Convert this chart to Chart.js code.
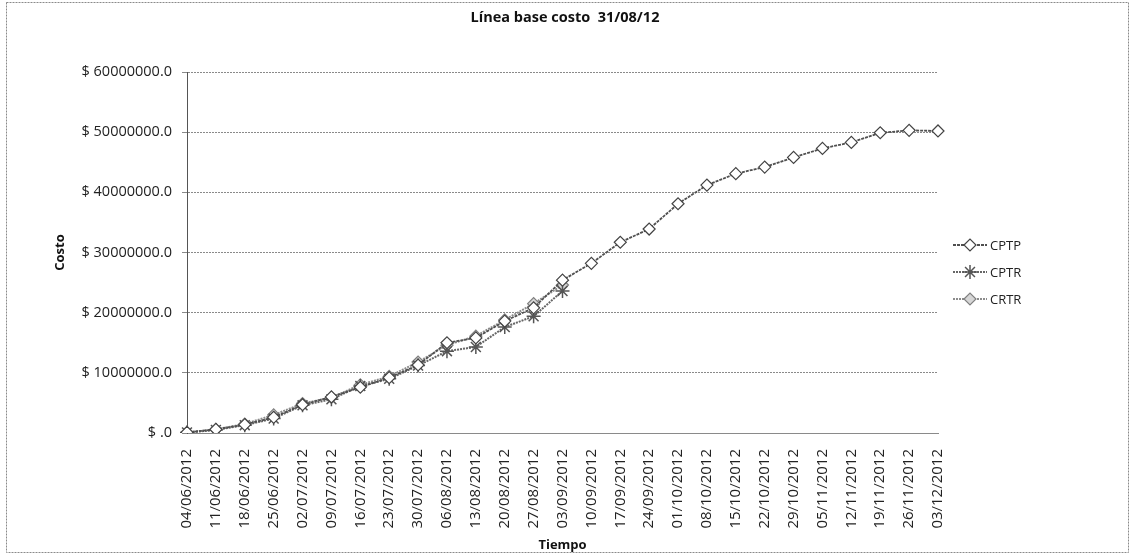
<!DOCTYPE html>
<html>
<head>
<meta charset="utf-8">
<script src="https://cdn.jsdelivr.net/npm/chart.js@4.4.1/dist/chart.umd.min.js"></script>
<style>
  html, body { margin: 0; padding: 0; background: #fff; }
  #wrap { width: 1134px; height: 557px; position: relative; }
</style>
</head>
<body>
<div id="wrap"><canvas id="chart"></canvas></div>
<script>
// Línea base costo - weekly cumulative values (millions)
const FECHAS = ['04/06/2012', '11/06/2012', '18/06/2012', '25/06/2012', '02/07/2012', '09/07/2012',
    '16/07/2012', '23/07/2012', '30/07/2012', '06/08/2012', '13/08/2012', '20/08/2012', '27/08/2012',
    '03/09/2012', '10/09/2012', '17/09/2012', '24/09/2012', '01/10/2012', '08/10/2012', '15/10/2012',
    '22/10/2012', '29/10/2012', '05/11/2012', '12/11/2012', '19/11/2012', '26/11/2012', '03/12/2012'];

const CPTP = [0.1, 0.6, 1.4, 2.6, 4.7, 6.0, 7.6, 9.2, 11.3, 15.0, 15.8, 18.6, 20.8, 25.4,
    28.2, 31.7, 33.9, 38.1, 41.2, 43.1, 44.2, 45.8, 47.3, 48.3, 49.9, 50.3, 50.2];
const CPTR = [0.1, 0.5, 1.3, 2.4, 4.6, 5.6, 7.8, 9.0, 11.2, 13.6, 14.3, 17.6, 19.4, 23.6];
const CRTR = [0.1, 0.6, 1.5, 3.0, 4.9, 5.9, 8.0, 9.4, 11.8, 14.6, 16.1, 18.8, 21.5, 24.6];

const TITULO = 'Línea base costo  31/08/12';
const Y_MAX = 60000000;
const Y_STEP = 10000000;

const toPesos = arr => arr.map(v => v * 1000000);
const FONT = 'Open Sans';

// frame around the whole chart + the title, centred like in the Excel sheet
const framePlugin = {
    id: 'frame',
    beforeDraw(chart) {
        const ctx = chart.ctx;
        ctx.save();
        ctx.strokeStyle = '#8a8a8a';
        ctx.lineWidth = 1;
        ctx.setLineDash([2, 1]);
        ctx.strokeRect(6.5, 2.5, 1122, 550);
        ctx.setLineDash([]);
        ctx.fillStyle = '#111';
        ctx.font = `bold 14.5px "${FONT}"`;
        ctx.textAlign = 'center';
        ctx.textBaseline = 'middle';
        ctx.fillText(TITULO, 565, 18);
        ctx.restore();
    }
};

// Excel-style legend: short line + marker + label
const legendPlugin = {
    id: 'excelLegend',
    afterDraw(chart) {
        const ctx = chart.ctx;
        ctx.save();
        chart.data.datasets.forEach((ds, i) => {
            const y = 245 + i * 27;
            ctx.strokeStyle = ds.borderColor;
            ctx.lineWidth = ds.borderWidth;
            ctx.setLineDash(ds.borderDash || []);
            ctx.beginPath();
            ctx.moveTo(953, y);
            ctx.lineTo(987, y);
            ctx.stroke();
            ctx.setLineDash([]);
            ctx.fillStyle = ds.pointBackgroundColor;
            ctx.strokeStyle = ds.pointBorderColor;
            ctx.lineWidth = ds.pointBorderWidth;
            Chart.helpers.drawPoint(ctx, { pointStyle: ds.pointStyle, radius: ds.pointRadius, rotation: 0, borderWidth: ds.pointBorderWidth }, 970, y);
            ctx.fillStyle = '#222';
            ctx.font = `13px "${FONT}"`;
            ctx.textBaseline = 'middle';
            ctx.fillText(ds.label, 990, y + 1);
        });
        ctx.restore();
    }
};

new Chart(document.getElementById('chart'), {
    type: 'line',
    data: {
        labels: FECHAS,
        datasets: [
            { label: 'CPTP', data: toPesos(CPTP), borderColor: '#505050', borderWidth: 1.8, borderDash: [3, 1],
              pointStyle: 'rectRot', pointRadius: 6, pointBackgroundColor: '#fff', pointBorderColor: '#444', pointBorderWidth: 1.2 },
            { label: 'CPTR', data: toPesos(CPTR), borderColor: '#666', borderWidth: 2, borderDash: [2, 1],
              pointStyle: 'star', pointRadius: 7, pointBackgroundColor: '#bbb', pointBorderColor: '#555', pointBorderWidth: 1.5 },
            { label: 'CRTR', data: toPesos(CRTR), borderColor: '#8c8c8c', borderWidth: 2, borderDash: [2, 1],
              pointStyle: 'rectRot', pointRadius: 6, pointBackgroundColor: '#d6d6d6', pointBorderColor: '#808080', pointBorderWidth: 1.2 }
        ]
    },
    options: {
        responsive: true,
        maintainAspectRatio: false,
        animation: false,
        layout: { padding: { left: 50, right: 196, top: 72, bottom: 4 } },
        plugins: {
            legend: { display: false },
            tooltip: { enabled: false },
            title: { display: false }
        },
        scales: {
            x: {
                offset: false,
                grid: { display: false },
                border: { display: true, color: '#8a8a8a' },
                ticks: { color: '#222', font: { family: FONT, size: 15 }, minRotation: 90, maxRotation: 90, autoSkip: false, padding: 8 },
                title: { display: true, text: 'Tiempo', color: '#111', font: { family: FONT, size: 13, weight: 'bold' }, padding: { top: 0, bottom: 0 } },
                afterFit(scale) { scale.height = 120; }
            },
            y: {
                min: 0,
                max: Y_MAX,
                grid: { color: '#8a8a8a', lineWidth: 1, tickLength: 5 },
                border: { display: true, color: '#555', dash: [2, 1] },
                ticks: {
                    stepSize: Y_STEP,
                    color: '#222',
                    font: { family: FONT, size: 14.5 },
                    padding: 10,
                    callback: v => v === 0 ? '$ .0' : '$ ' + v.toFixed(1)
                },
                title: { display: true, text: 'Costo', color: '#111', font: { family: FONT, size: 13, weight: 'bold' }, padding: { top: 2, bottom: 0 } },
                afterFit(scale) { scale.width = 137; }
            }
        }
    },
    plugins: [framePlugin, legendPlugin]
});
</script>
</body>
</html>
